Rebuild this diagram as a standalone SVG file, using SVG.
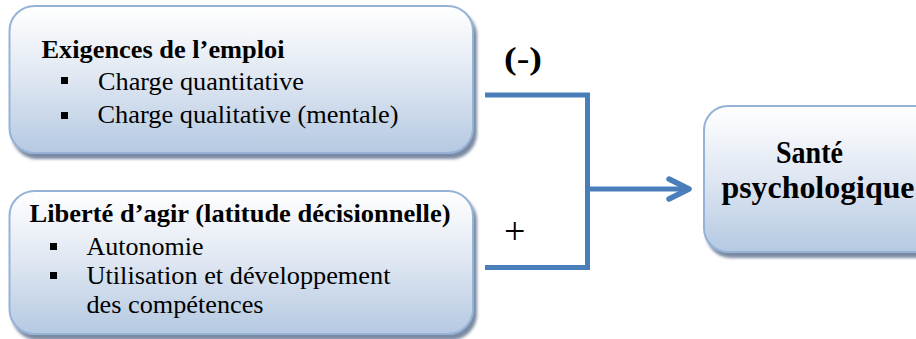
<svg xmlns="http://www.w3.org/2000/svg" width="916" height="339" viewBox="0 0 916 339">
  <defs>
    <linearGradient id="boxFill" x1="0" y1="0" x2="0" y2="1">
      <stop offset="0" stop-color="#ffffff"/>
      <stop offset="0.45" stop-color="#e2e9f3"/>
      <stop offset="1" stop-color="#b5c9e2"/>
    </linearGradient>
    <filter id="shadow" x="-5%" y="-5%" width="115%" height="120%">
      <feDropShadow dx="3" dy="5" stdDeviation="1.4" flood-color="#4f6482" flood-opacity="0.75"/>
    </filter>
  </defs>
  <style>
    .box { fill: url(#boxFill); stroke: #95b3d7; stroke-width: 2; filter: url(#shadow); }
    .title { font-family: "Liberation Serif", "Times New Roman", "DejaVu Serif", serif; font-weight: bold; font-size: 25.5px; fill: #000; }
    .item { font-family: "Liberation Serif", "Times New Roman", "DejaVu Serif", serif; font-size: 25.5px; fill: #000; }
    .big { font-family: "Liberation Serif", "Times New Roman", "DejaVu Serif", serif; font-weight: bold; font-size: 32px; fill: #000; }
    .sign { font-family: "Liberation Serif", "Times New Roman", "DejaVu Serif", serif; fill: #000; }
    .bullet { fill: #000; }
    .wire { fill: none; stroke: #4a7ebb; stroke-width: 5; stroke-linejoin: miter; }
    .head { fill: none; stroke: #4a7ebb; stroke-width: 5.5; stroke-linecap: round; stroke-linejoin: round; }
  </style>

  <rect width="916" height="339" fill="#ffffff"/>

  <!-- Job demands -->
  <g id="exigences">
    <rect class="box" x="9.5" y="6" width="463.5" height="147" rx="25" ry="25"/>
    <text class="title" x="41.5" y="58" textLength="243" lengthAdjust="spacingAndGlyphs">Exigences de l’emploi</text>
    <rect class="bullet" x="61" y="77" width="7" height="7"/>
    <text class="item" x="98" y="90" textLength="206" lengthAdjust="spacingAndGlyphs">Charge quantitative</text>
    <rect class="bullet" x="61" y="112" width="7" height="7"/>
    <text class="item" x="97.5" y="123" textLength="301" lengthAdjust="spacingAndGlyphs">Charge qualitative (mentale)</text>
  </g>

  <!-- Decision latitude -->
  <g id="liberte">
    <rect class="box" x="9.5" y="191" width="463.5" height="143" rx="25" ry="25"/>
    <text class="title" x="29.5" y="222" textLength="421" lengthAdjust="spacingAndGlyphs">Liberté d’agir (latitude décisionnelle)</text>
    <rect class="bullet" x="50" y="243" width="7" height="7"/>
    <text class="item" x="86.5" y="255" textLength="117" lengthAdjust="spacingAndGlyphs">Autonomie</text>
    <rect class="bullet" x="50" y="272" width="7" height="7"/>
    <text class="item" x="86.5" y="284" textLength="304" lengthAdjust="spacingAndGlyphs">Utilisation et développement</text>
    <text class="item" x="86.5" y="313" textLength="177" lengthAdjust="spacingAndGlyphs">des compétences</text>
  </g>

  <!-- Outcome -->
  <g id="sante">
    <rect class="box" x="704" y="106" width="240" height="146" rx="24" ry="24"/>
    <text class="big" x="776" y="163" textLength="67" lengthAdjust="spacingAndGlyphs">Santé</text>
    <text class="big" x="721.5" y="198" textLength="193" lengthAdjust="spacingAndGlyphs">psychologique</text>
  </g>

  <!-- Connectors -->
  <g id="connectors">
    <path class="wire" d="M485 95 H587.5 V267.5 H485"/>
    <path class="wire" d="M587.5 189 H686"/>
    <path class="head" d="M669 179 L689 189 L669 199"/>
    <text class="sign" x="504" y="69" font-size="31" font-weight="bold" textLength="38" lengthAdjust="spacingAndGlyphs">(-)</text>
    <text class="sign" x="504" y="243.5" font-size="38">+</text>
  </g>
</svg>
